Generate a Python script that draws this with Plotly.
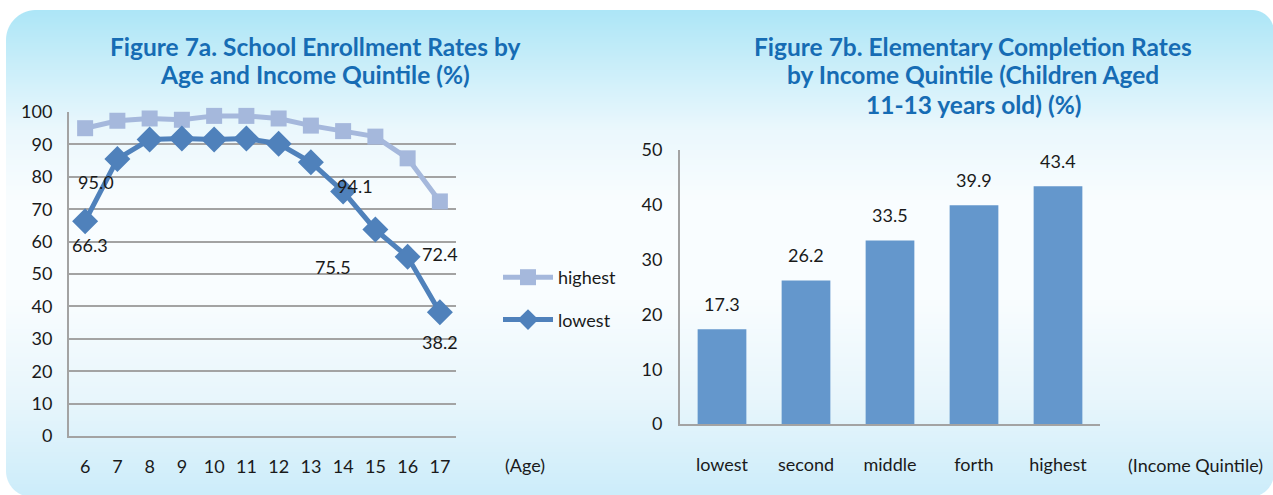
import base64
import struct
import zlib

import numpy as np
import plotly.graph_objects as go

# ---------------- data ----------------
ages = [6, 7, 8, 9, 10, 11, 12, 13, 14, 15, 16, 17]
highest = [95.0, 97.3, 98.0, 97.6, 98.8, 98.8, 98.0, 95.8, 94.1, 92.4, 85.7, 72.4]
lowest = [66.3, 85.5, 91.5, 91.8, 91.5, 91.8, 90.2, 84.5, 75.5, 63.7, 55.3, 38.2]

quintiles = ["lowest", "second", "middle", "forth", "highest"]
completion = [17.3, 26.2, 33.5, 39.9, 43.4]

# labelled points: (series, index, xshift, yshift)
line_labels = [
    ("highest", 0, 11, -54),
    ("highest", 8, 12, -55),
    ("highest", 11, 0, -53),
    ("lowest", 0, 5, -24),
    ("lowest", 8, -10, -76),
    ("lowest", 11, 0, -30),
]

W, H = 1273, 495

# ---------------- background panel (gradient, rounded) ----------------
def make_bg():
    ys = np.arange(H) + 0.5
    sy = [10, 130, 200, 300, 400, 494]
    cols = np.array([[173, 230, 247], [235, 248, 253], [249, 253, 255],
                     [249, 253, 255], [232, 246, 252], [205, 237, 250]], float)
    rgb = np.stack([np.interp(ys, sy, cols[:, k]) for k in range(3)], axis=1)
    img = np.zeros((H, W, 4), np.uint8)
    img[:, :, :3] = rgb[:, None, :].astype(np.uint8)
    X, Y = np.meshgrid(np.arange(W) + 0.5, ys)
    x0, y0, x1, y1 = 6.0, 10.0, 1274.0, 497.0
    a = np.clip(np.minimum.reduce([X - x0 + 0.5, x1 - X + 0.5, Y - y0 + 0.5, y1 - Y + 0.5]), 0, 1)
    for cx, cy, r, mx, my in [(x0 + 30, y0 + 30, 30, -1, -1), (x1 - 22, y0 + 22, 22, 1, -1),
                              (x0 + 26, y1 - 26, 26, -1, 1), (x1 - 24, y1 - 24, 24, 1, 1)]:
        reg = ((X - cx) * mx > 0) & ((Y - cy) * my > 0)
        d = np.sqrt((X - cx) ** 2 + (Y - cy) ** 2)
        a = np.where(reg, np.minimum(a, np.clip(r - d + 0.5, 0, 1)), a)
    img[:, :, 3] = (a * 255).astype(np.uint8)
    raw = b"".join(b"\x00" + img[i].tobytes() for i in range(H))

    def chunk(t, d):
        c = struct.pack(">I", len(d)) + t + d
        return c + struct.pack(">I", zlib.crc32(t + d) & 0xFFFFFFFF)

    png = b"\x89PNG\r\n\x1a\n" + chunk(b"IHDR", struct.pack(">IIBBBBB", W, H, 8, 6, 0, 0, 0)) \
        + chunk(b"IDAT", zlib.compress(raw, 9)) + chunk(b"IEND", b"")
    return "data:image/png;base64," + base64.b64encode(png).decode()


FONT = "Lato"
FS = 18
TXT = "#1a1a1a"
TITLE_C = "#166cb4"
GRID = "#a3a3a3"
C_HIGH = "#a5b8dc"
C_LOW = "#4f81bb"
C_BAR = "#6497cc"

fig = go.Figure()

fig.add_trace(go.Scatter(
    x=ages, y=highest, name="highest", mode="lines+markers",
    line=dict(color=C_HIGH, width=5), marker=dict(symbol="square", size=16, color=C_HIGH),
    cliponaxis=False, legendgroup="h", xaxis="x", yaxis="y"))
fig.add_trace(go.Scatter(
    x=ages, y=lowest, name="lowest", mode="lines+markers",
    line=dict(color=C_LOW, width=5), marker=dict(symbol="diamond", size=20, color=C_LOW),
    cliponaxis=False, legendgroup="l", xaxis="x", yaxis="y"))

fig.add_trace(go.Bar(
    x=quintiles, y=completion, marker=dict(color=C_BAR, line=dict(width=0)), width=0.58,
    showlegend=False, xaxis="x2", yaxis="y2"))

annotations = []
series = {"highest": highest, "lowest": lowest}
for s, i, dx, dy in line_labels:
    annotations.append(dict(x=ages[i], y=series[s][i], xref="x", yref="y", text=f"{series[s][i]:.1f}",
                            showarrow=False, xshift=dx, yshift=dy,
                            font=dict(family=FONT, size=FS, color=TXT)))
for q, v in zip(quintiles, completion):
    annotations.append(dict(x=q, y=v, xref="x2", yref="y2", text=f"{v:.1f}", showarrow=False,
                            yshift=25, font=dict(family=FONT, size=FS, color=TXT)))

def title_line(text, cx, cy):
    annotations.append(dict(x=cx / W, y=1 - cy / H, xref="paper", yref="paper", text=f"<b>{text}</b>",
                            showarrow=False, xanchor="center", yanchor="middle",
                            font=dict(family=FONT, size=24.5, color=TITLE_C)))

title_line("Figure 7a. School Enrollment Rates by", 315, 47)
title_line("Age and Income Quintile (%)", 315, 75)
title_line("Figure 7b. Elementary Completion Rates", 973, 47)
title_line("by Income Quintile (Children Aged", 973, 75)
title_line("11-13 years old) (%)", 973, 104)

for text, cx in [("(Age)", 525), ("(Income Quintile)", 1195)]:
    annotations.append(dict(x=cx / W, y=1 - 465 / H, xref="paper", yref="paper", text=text,
                            showarrow=False, xanchor="center", yanchor="middle",
                            font=dict(family=FONT, size=FS, color=TXT)))

tickfont = dict(family=FONT, size=FS, color=TXT)

fig.update_layout(
    width=W, height=H, margin=dict(l=0, r=0, t=0, b=0, autoexpand=False),
    paper_bgcolor="white", plot_bgcolor="rgba(0,0,0,0)",
    font=dict(family=FONT, size=FS, color=TXT),
    images=[dict(source=make_bg(), xref="paper", yref="paper", x=0, y=1, sizex=1, sizey=1,
                 sizing="stretch", xanchor="left", yanchor="top", layer="below")],
    xaxis=dict(domain=[69 / W, 456 / W], range=[5.5, 17.5], tickmode="array", tickvals=ages,
               showgrid=False, zeroline=False, showline=True, linecolor=GRID, linewidth=2,
               ticks="", tickfont=tickfont, ticklabelstandoff=13, automargin=False, fixedrange=True),
    yaxis=dict(domain=[1 - 436 / H, 1 - 112 / H], range=[0, 100], dtick=10, showgrid=True,
               gridcolor=GRID, gridwidth=2, zeroline=False, showline=True, linecolor=GRID,
               linewidth=2, ticks="", tickfont=tickfont, ticklabelstandoff=11, automargin=False),
    xaxis2=dict(domain=[680 / W, 1100 / W], anchor="y2", showgrid=False, zeroline=False,
                showline=True, linecolor=GRID, linewidth=2, ticks="", tickfont=tickfont,
                ticklabelstandoff=23, automargin=False),
    yaxis2=dict(domain=[1 - 424 / H, 1 - 150 / H], anchor="x2", range=[0, 50], dtick=10,
                showgrid=False, zeroline=False, showline=True, linecolor=GRID, linewidth=2,
                ticks="", tickfont=tickfont, ticklabelstandoff=12, automargin=False),
    legend=dict(x=498 / W, y=1 - 259 / H, xanchor="left", yanchor="top", bgcolor="rgba(0,0,0,0)",
                font=dict(family=FONT, size=FS, color=TXT), traceorder="grouped",
                tracegroupgap=16, itemwidth=50),
    annotations=annotations,
    showlegend=True,
)

fig.write_html("out.html")
